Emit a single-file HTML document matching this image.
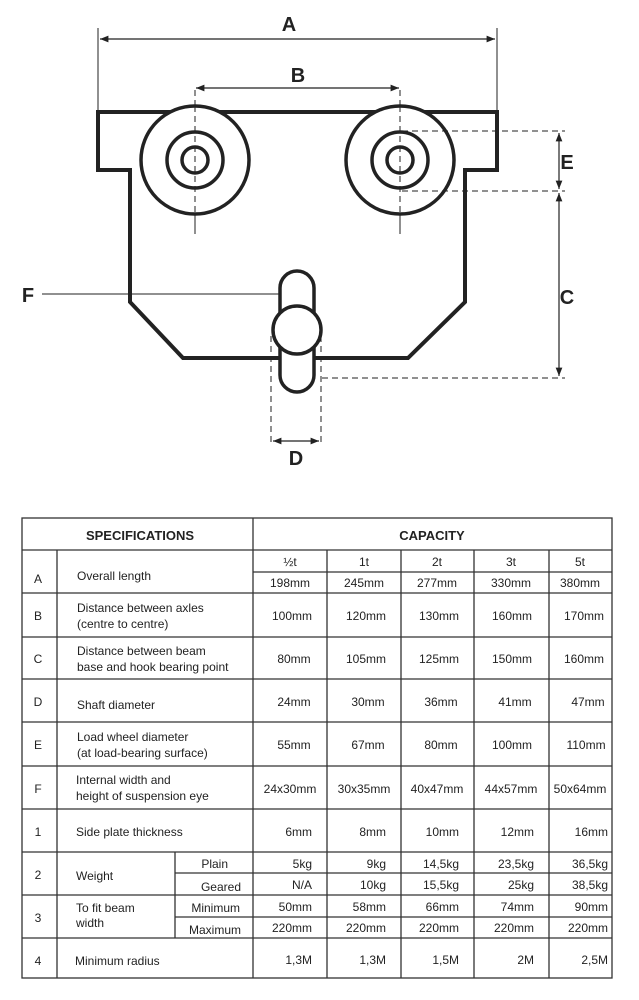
<!DOCTYPE html>
<html><head><meta charset="utf-8"><style>
html,body{margin:0;padding:0;background:#fff;}
svg{display:block;font-family:"Liberation Sans",sans-serif;}
</style></head><body>
<svg width="639" height="1000" viewBox="0 0 639 1000" xmlns="http://www.w3.org/2000/svg">
<defs>
<marker id="ar" viewBox="0 0 10 10" refX="10" refY="5" markerWidth="7" markerHeight="7" orient="auto-start-reverse"><path d="M0,1 L10,5 L0,9 z" fill="#222"/></marker>
</defs>
<g stroke="#222" fill="none">
<!-- A -->
<line x1="98" y1="28" x2="98" y2="122" stroke-width="1"/>
<line x1="497" y1="28" x2="497" y2="122" stroke-width="1"/>
<line x1="100" y1="39" x2="495" y2="39" stroke-width="1.2" marker-start="url(#ar)" marker-end="url(#ar)"/>
<!-- B -->
<line x1="196" y1="88" x2="399" y2="88" stroke-width="1.2" marker-start="url(#ar)" marker-end="url(#ar)"/>
<line x1="195" y1="90" x2="195" y2="234" stroke-width="1" stroke-dasharray="6,4"/>
<line x1="400" y1="90" x2="400" y2="234" stroke-width="1" stroke-dasharray="6,4"/>
<!-- body -->
<path d="M98,112 L497,112 L497,170 L465,170 L465,302 L408,358 L183,358 L130,302 L130,170 L98,170 Z" stroke-width="4" fill="none"/>
<!-- wheels -->
<circle cx="195" cy="160" r="54" stroke-width="3.5" fill="#fff"/>
<circle cx="195" cy="160" r="28" stroke-width="3.5"/>
<circle cx="195" cy="160" r="13" stroke-width="3.5"/>
<circle cx="400" cy="160" r="54" stroke-width="3.5" fill="#fff"/>
<circle cx="400" cy="160" r="28" stroke-width="3.5"/>
<circle cx="400" cy="160" r="13" stroke-width="3.5"/>
<line x1="195" y1="106" x2="195" y2="234" stroke-width="1" stroke-dasharray="6,4"/>
<line x1="400" y1="106" x2="400" y2="234" stroke-width="1" stroke-dasharray="6,4"/>
<!-- E / C -->
<line x1="402" y1="131" x2="565" y2="131" stroke-width="1" stroke-dasharray="6,4"/>
<line x1="402" y1="191" x2="565" y2="191" stroke-width="1" stroke-dasharray="6,4"/>
<line x1="559" y1="133" x2="559" y2="189" stroke-width="1.2" marker-start="url(#ar)" marker-end="url(#ar)"/>
<line x1="559" y1="193" x2="559" y2="376" stroke-width="1.2" marker-start="url(#ar)" marker-end="url(#ar)"/>
<line x1="322" y1="378" x2="565" y2="378" stroke-width="1" stroke-dasharray="6,4"/>
<!-- hook -->
<rect x="280" y="271" width="34" height="121" rx="17" stroke-width="3.5" fill="#fff"/>
<circle cx="297" cy="330" r="24" stroke-width="3.5" fill="#fff"/>
<line x1="42" y1="294" x2="280" y2="294" stroke-width="1"/>
<!-- D -->
<line x1="271" y1="336" x2="271" y2="445" stroke-width="1" stroke-dasharray="6,4"/>
<line x1="321" y1="336" x2="321" y2="445" stroke-width="1" stroke-dasharray="6,4"/>
<line x1="273" y1="441" x2="319" y2="441" stroke-width="1.2" marker-start="url(#ar)" marker-end="url(#ar)"/>
</g>
<g font-size="20" font-weight="bold" fill="#222" text-anchor="middle">
<text x="289" y="31">A</text>
<text x="298" y="82">B</text>
<text x="567" y="169">E</text>
<text x="567" y="304">C</text>
<text x="28" y="302">F</text>
<text x="296" y="465">D</text>
</g>
<!-- table -->
<g stroke="#333" stroke-width="1.3" fill="none">
<rect x="22" y="518" width="590" height="460"/>
<line x1="22" y1="550" x2="612" y2="550"/>
<line x1="253" y1="518" x2="253" y2="978"/>
<line x1="57" y1="550" x2="57" y2="978"/>
<line x1="327" y1="550" x2="327" y2="978"/>
<line x1="401" y1="550" x2="401" y2="978"/>
<line x1="474" y1="550" x2="474" y2="978"/>
<line x1="549" y1="550" x2="549" y2="978"/>
<line x1="253" y1="572" x2="612" y2="572"/>
<line x1="22" y1="593" x2="612" y2="593"/>
<line x1="22" y1="637" x2="612" y2="637"/>
<line x1="22" y1="679" x2="612" y2="679"/>
<line x1="22" y1="722" x2="612" y2="722"/>
<line x1="22" y1="766" x2="612" y2="766"/>
<line x1="22" y1="809" x2="612" y2="809"/>
<line x1="22" y1="852" x2="612" y2="852"/>
<line x1="175" y1="873" x2="612" y2="873"/>
<line x1="22" y1="895" x2="612" y2="895"/>
<line x1="175" y1="917" x2="612" y2="917"/>
<line x1="22" y1="938" x2="612" y2="938"/>
<line x1="175" y1="852" x2="175" y2="938"/>
</g>
<g font-size="13" font-weight="bold" fill="#222" text-anchor="middle">
<text x="140" y="540">SPECIFICATIONS</text>
<text x="432" y="540">CAPACITY</text>
</g>
<g font-size="12" fill="#222">
<g text-anchor="middle">
<text x="38" y="583">A</text><text x="38" y="620">B</text><text x="38" y="663">C</text>
<text x="38" y="706">D</text><text x="38" y="749">E</text><text x="38" y="793">F</text>
<text x="38" y="836">1</text><text x="38" y="879">2</text><text x="38" y="922">3</text><text x="38" y="965">4</text>
</g>
<text x="77" y="580">Overall length</text>
<text x="77" y="612">Distance between axles</text><text x="77" y="628">(centre to centre)</text>
<text x="77" y="655">Distance between beam</text><text x="77" y="671">base and hook bearing point</text>
<text x="77" y="709">Shaft diameter</text>
<text x="77" y="741">Load wheel diameter</text><text x="77" y="757">(at load-bearing surface)</text>
<text x="76" y="784">Internal width and</text><text x="76" y="800">height of suspension eye</text>
<text x="76" y="836">Side plate thickness</text>
<text x="76" y="880">Weight</text>
<text x="76" y="912">To fit beam</text><text x="76" y="927">width</text>
<text x="75" y="965">Minimum radius</text>
<g text-anchor="end">
<text x="228" y="868">Plain</text><text x="241" y="891">Geared</text>
<text x="240" y="912">Minimum</text><text x="241" y="934">Maximum</text>
</g>
<g text-anchor="middle">
<text x="290" y="566">½t</text><text x="364" y="566">1t</text><text x="437" y="566">2t</text><text x="511" y="566">3t</text><text x="580" y="566">5t</text>
<text x="290" y="587">198mm</text><text x="364" y="587">245mm</text><text x="437" y="587">277mm</text><text x="511" y="587">330mm</text><text x="580" y="587">380mm</text>
<text x="292" y="620">100mm</text><text x="366" y="620">120mm</text><text x="439" y="620">130mm</text><text x="512" y="620">160mm</text><text x="584" y="620">170mm</text>
<text x="294" y="663">80mm</text><text x="366" y="663">105mm</text><text x="439" y="663">125mm</text><text x="512" y="663">150mm</text><text x="584" y="663">160mm</text>
<text x="294" y="706">24mm</text><text x="368" y="706">30mm</text><text x="441" y="706">36mm</text><text x="515" y="706">41mm</text><text x="588" y="706">47mm</text>
<text x="294" y="749">55mm</text><text x="368" y="749">67mm</text><text x="441" y="749">80mm</text><text x="512" y="749">100mm</text><text x="586" y="749">110mm</text>
<text x="290" y="793">24x30mm</text><text x="364" y="793">30x35mm</text><text x="437" y="793">40x47mm</text><text x="511" y="793">44x57mm</text><text x="580" y="793">50x64mm</text>
</g>
<g text-anchor="end">
<text x="312" y="836">6mm</text><text x="386" y="836">8mm</text><text x="459" y="836">10mm</text><text x="534" y="836">12mm</text><text x="608" y="836">16mm</text>
<text x="312" y="868">5kg</text><text x="386" y="868">9kg</text><text x="459" y="868">14,5kg</text><text x="534" y="868">23,5kg</text><text x="608" y="868">36,5kg</text>
<text x="312" y="889">N/A</text><text x="386" y="889">10kg</text><text x="459" y="889">15,5kg</text><text x="534" y="889">25kg</text><text x="608" y="889">38,5kg</text>
<text x="312" y="911">50mm</text><text x="386" y="911">58mm</text><text x="459" y="911">66mm</text><text x="534" y="911">74mm</text><text x="608" y="911">90mm</text>
<text x="312" y="932">220mm</text><text x="386" y="932">220mm</text><text x="459" y="932">220mm</text><text x="534" y="932">220mm</text><text x="608" y="932">220mm</text>
<text x="312" y="964">1,3M</text><text x="386" y="964">1,3M</text><text x="459" y="964">1,5M</text><text x="534" y="964">2M</text><text x="608" y="964">2,5M</text>
</g>
</g>
</svg>
</body></html>
